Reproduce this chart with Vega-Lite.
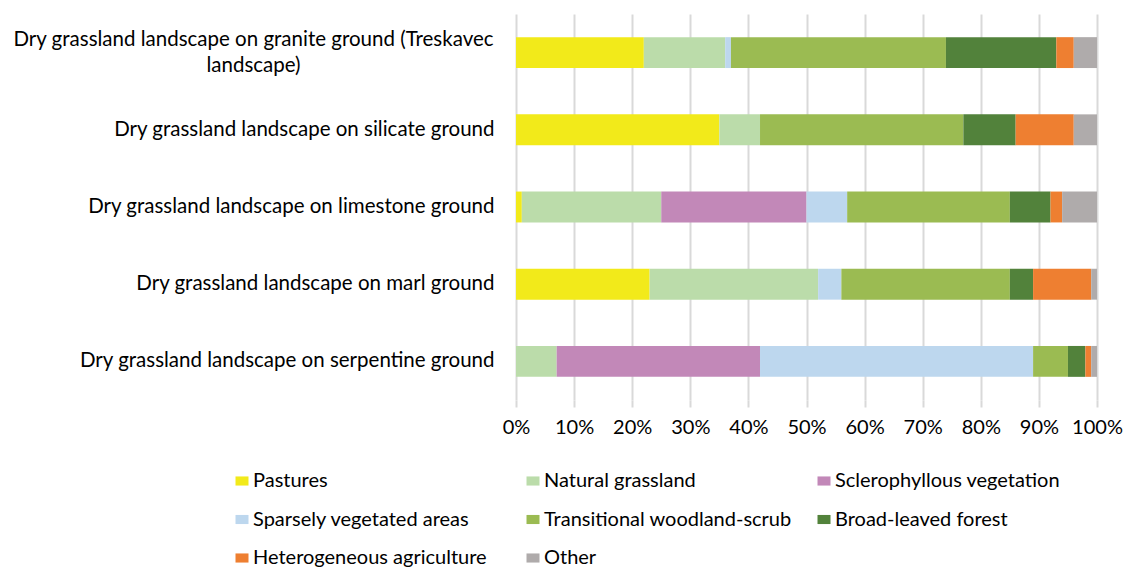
{
  "$schema": "https://vega.github.io/schema/vega-lite/v6.json",
  "autosize": {"type": "none"},
  "width": 581,
  "height": 386,
  "padding": {"left": 516, "top": 14, "right": 28, "bottom": 167},
  "background": "#ffffff",
  "config": {
    "font": "Lato",
    "view": {"stroke": null}
  },
  "data": {
    "values": [
      {"landscape": "Dry grassland landscape on granite ground (Treskavec landscape)", "cover": "Pastures", "share": 22},
      {"landscape": "Dry grassland landscape on granite ground (Treskavec landscape)", "cover": "Natural grassland", "share": 14},
      {"landscape": "Dry grassland landscape on granite ground (Treskavec landscape)", "cover": "Sparsely vegetated areas", "share": 1},
      {"landscape": "Dry grassland landscape on granite ground (Treskavec landscape)", "cover": "Transitional woodland-scrub", "share": 37},
      {"landscape": "Dry grassland landscape on granite ground (Treskavec landscape)", "cover": "Broad-leaved forest", "share": 19},
      {"landscape": "Dry grassland landscape on granite ground (Treskavec landscape)", "cover": "Heterogeneous agriculture", "share": 3},
      {"landscape": "Dry grassland landscape on granite ground (Treskavec landscape)", "cover": "Other", "share": 4},

      {"landscape": "Dry grassland landscape on silicate ground", "cover": "Pastures", "share": 35},
      {"landscape": "Dry grassland landscape on silicate ground", "cover": "Natural grassland", "share": 7},
      {"landscape": "Dry grassland landscape on silicate ground", "cover": "Transitional woodland-scrub", "share": 35},
      {"landscape": "Dry grassland landscape on silicate ground", "cover": "Broad-leaved forest", "share": 9},
      {"landscape": "Dry grassland landscape on silicate ground", "cover": "Heterogeneous agriculture", "share": 10},
      {"landscape": "Dry grassland landscape on silicate ground", "cover": "Other", "share": 4},

      {"landscape": "Dry grassland landscape on limestone ground", "cover": "Pastures", "share": 1},
      {"landscape": "Dry grassland landscape on limestone ground", "cover": "Natural grassland", "share": 24},
      {"landscape": "Dry grassland landscape on limestone ground", "cover": "Sclerophyllous vegetation", "share": 25},
      {"landscape": "Dry grassland landscape on limestone ground", "cover": "Sparsely vegetated areas", "share": 7},
      {"landscape": "Dry grassland landscape on limestone ground", "cover": "Transitional woodland-scrub", "share": 28},
      {"landscape": "Dry grassland landscape on limestone ground", "cover": "Broad-leaved forest", "share": 7},
      {"landscape": "Dry grassland landscape on limestone ground", "cover": "Heterogeneous agriculture", "share": 2},
      {"landscape": "Dry grassland landscape on limestone ground", "cover": "Other", "share": 6},

      {"landscape": "Dry grassland landscape on marl ground", "cover": "Pastures", "share": 23},
      {"landscape": "Dry grassland landscape on marl ground", "cover": "Natural grassland", "share": 29},
      {"landscape": "Dry grassland landscape on marl ground", "cover": "Sparsely vegetated areas", "share": 4},
      {"landscape": "Dry grassland landscape on marl ground", "cover": "Transitional woodland-scrub", "share": 29},
      {"landscape": "Dry grassland landscape on marl ground", "cover": "Broad-leaved forest", "share": 4},
      {"landscape": "Dry grassland landscape on marl ground", "cover": "Heterogeneous agriculture", "share": 10},
      {"landscape": "Dry grassland landscape on marl ground", "cover": "Other", "share": 1},

      {"landscape": "Dry grassland landscape on serpentine ground", "cover": "Natural grassland", "share": 7},
      {"landscape": "Dry grassland landscape on serpentine ground", "cover": "Sclerophyllous vegetation", "share": 35},
      {"landscape": "Dry grassland landscape on serpentine ground", "cover": "Sparsely vegetated areas", "share": 47},
      {"landscape": "Dry grassland landscape on serpentine ground", "cover": "Transitional woodland-scrub", "share": 6},
      {"landscape": "Dry grassland landscape on serpentine ground", "cover": "Broad-leaved forest", "share": 3},
      {"landscape": "Dry grassland landscape on serpentine ground", "cover": "Heterogeneous agriculture", "share": 1},
      {"landscape": "Dry grassland landscape on serpentine ground", "cover": "Other", "share": 1}
    ]
  },
  "transform": [
    {"calculate": "indexof(['Pastures','Natural grassland','Sclerophyllous vegetation','Sparsely vegetated areas','Transitional woodland-scrub','Broad-leaved forest','Heterogeneous agriculture','Other'], datum.cover)", "as": "stackOrder"}
  ],
  "mark": {"type": "bar"},
  "encoding": {
    "y": {
      "field": "landscape",
      "type": "nominal",
      "sort": null,
      "title": null,
      "scale": {"paddingInner": 0.6, "paddingOuter": 0.3},
      "axis": {
        "domain": false,
        "ticks": false,
        "labelFontSize": 20.5,
        "labelColor": "#000000",
        "labelLimit": 600,
        "labelLineHeight": 26,
        "labelAlign": {"condition": {"test": "indexof(datum.value, 'Treskavec') >= 0", "value": "center"}, "value": "right"},
        "labelPadding": {"condition": {"test": "indexof(datum.value, 'Treskavec') >= 0", "value": 263}, "value": 22},
        "labelOffset": {"condition": {"test": "indexof(datum.value, 'Treskavec') >= 0", "value": -13}, "value": 0},
        "labelExpr": "indexof(datum.value, 'Treskavec') >= 0 ? ['Dry grassland landscape on granite ground (Treskavec', 'landscape)'] : datum.value"
      }
    },
    "x": {
      "field": "share",
      "type": "quantitative",
      "stack": "normalize",
      "title": null,
      "scale": {"domain": [0, 1], "nice": false},
      "axis": {
        "values": [0, 0.1, 0.2, 0.3, 0.4, 0.5, 0.6, 0.7, 0.8, 0.9, 1],
        "format": ".0%",
        "domain": false,
        "grid": true,
        "gridColor": "#D9D9D9",
        "gridWidth": 2,
        "tickColor": "#D9D9D9",
        "tickWidth": 2,
        "tickSize": 7,
        "labelPadding": 10,
        "labelFontSize": 20,
        "labelColor": "#000000",
        "labelFlush": false,
        "labelOverlap": false
      }
    },
    "color": {
      "field": "cover",
      "type": "nominal",
      "title": null,
      "scale": {
        "domain": ["Pastures", "Natural grassland", "Sclerophyllous vegetation", "Sparsely vegetated areas", "Transitional woodland-scrub", "Broad-leaved forest", "Heterogeneous agriculture", "Other"],
        "range": ["#F2EA1A", "#BBDCAA", "#C288B8", "#BDD7EE", "#9BBB52", "#52823B", "#EE7F31", "#AFABAB"]
      },
      "legend": {
        "orient": "none",
        "legendX": -284,
        "legendY": 457,
        "direction": "horizontal",
        "columns": 3,
        "gridAlign": "all",
        "columnPadding": 22,
        "rowPadding": 18.5,
        "padding": 0,
        "symbolType": "M-1,-0.7H1V0.7H-1Z",
        "symbolSize": 169,
        "symbolStrokeWidth": 0,
        "labelFontSize": 20,
        "labelColor": "#000000",
        "labelOffset": 1,
        "labelLimit": 400
      }
    },
    "order": {"field": "stackOrder", "type": "quantitative"}
  }
}
